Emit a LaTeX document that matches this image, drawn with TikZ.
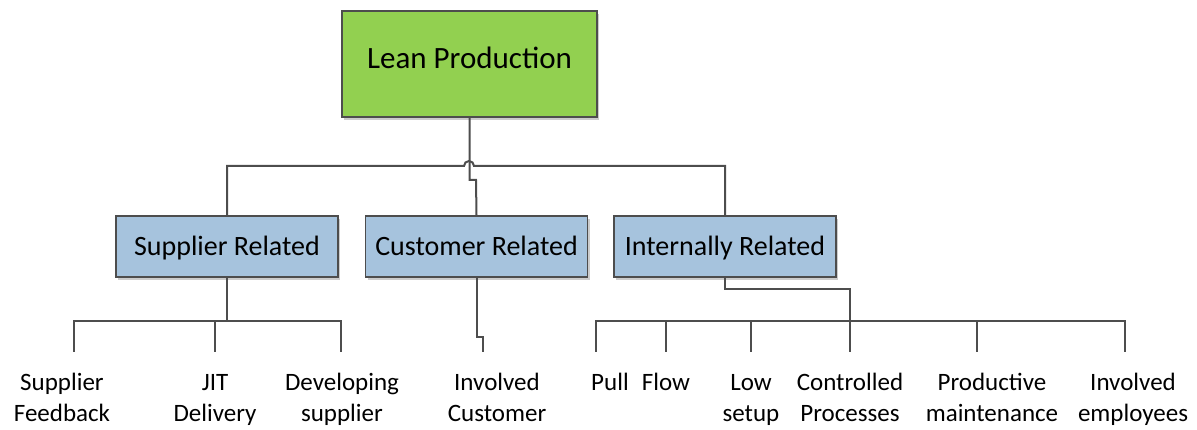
\documentclass[tikz,border=0pt]{standalone}
\usepackage{fontspec}
\setmainfont{Carlito}
\usetikzlibrary{positioning, shadows}
\definecolor{leangreen}{HTML}{92D050}
\definecolor{boxblue}{HTML}{A6C3DD}
\definecolor{linegray}{HTML}{4D4D4D}

\begin{document}
\begin{tikzpicture}[x=1pt, y=-1pt, line width=1.5pt]
    % Stili
    \tikzstyle{rootbox} = [draw=linegray, fill=leangreen, minimum width=255pt, minimum height=106pt, inner sep=0pt, text height=20pt, text depth=11pt, font=\fontsize{31}{37}\selectfont, drop shadow={shadow xshift=2pt, shadow yshift=-3pt, fill=black!20, opacity=1}]
    \tikzstyle{groupbox} = [draw=linegray, fill=boxblue, minimum width=222pt, minimum height=61pt, inner sep=0pt, text height=24pt, text depth=6pt, font=\fontsize{28}{34}\selectfont, drop shadow={shadow xshift=2pt, shadow yshift=-3pt, fill=black!20, opacity=1}]
    \tikzstyle{leaf} = [anchor=base, align=center, inner sep=0pt, font=\fontsize{25}{31}\selectfont]
    \tikzstyle{wire} = [draw=linegray, line width=2pt]

    \useasboundingbox (0,0) rectangle (1197,430);

    % Nodi
    \node [rootbox] (lean) at (469.5,64) {Lean Production};
    \node [groupbox] (supp) at (227,246.5) {Supplier Related};
    \node [groupbox] (cust) at (476.5,246.5) {Customer Related};
    \node [groupbox] (intl) at (725,246.5) {Internally Related};

    % Foglie (base = ultima riga)
    \node [leaf] (sf) at (62,421) {Supplier\\Feedback};
    \node [leaf] (jit) at (215,421) {JIT\\Delivery};
    \node [leaf] (dev) at (342,421) {Developing\\supplier};
    \node [leaf] (invc) at (497,421) {Involved\\Customer};
    \node [leaf] (pull) at (610,390) {Pull};
    \node [leaf] (flow) at (666,390) {Flow};
    \node [leaf] (low) at (751,421) {Low\\setup};
    \node [leaf] (ctrl) at (850,421) {Controlled\\Processes};
    \node [leaf] (prod) at (992,421) {Productive\\maintenance};
    \node [leaf] (invemp) at (1133,421) {Involved\\employees};

    % Punti di giunzione
    \coordinate (hopL) at (464,166);
    \coordinate (hopR) at (474,166);
    \coordinate (ljog) at (476,180);
    \coordinate (sbus) at (227,321);
    \coordinate (cjog) at (483,337);
    \coordinate (ijog) at (850,289);
    \coordinate (sfT) at (74,352);
    \coordinate (jitT) at (215,352);
    \coordinate (devT) at (341,352);
    \coordinate (invcT) at (483,352);
    \coordinate (pullT) at (596,352);
    \coordinate (flowT) at (666,352);
    \coordinate (lowT) at (751,352);
    \coordinate (ctrlT) at (850,352);
    \coordinate (prodT) at (977,352);
    \coordinate (invempT) at (1125,352);

    % Collegamenti
    \draw [wire] (lean.south) |- (ljog) -- (cust.north);
    \draw [wire] (supp.north) |- (hopL) arc [start angle=180, end angle=0, radius=5pt] -- (hopR) -| (intl.north);

    \draw [wire] (supp.south) -- (sbus);
    \draw [wire] (sfT) -- (sfT |- sbus) -| (devT);
    \draw [wire] (jitT |- sbus) -- (jitT);

    \draw [wire] (cust.south) |- (cjog) -- (invcT);

    \draw [wire] (intl.south) |- (ijog) -- (ctrlT);
    \draw [wire] (pullT) -- (pullT |- sbus) -| (invempT);
    \draw [wire] (flowT |- sbus) -- (flowT);
    \draw [wire] (lowT |- sbus) -- (lowT);
    \draw [wire] (prodT |- sbus) -- (prodT);

\end{tikzpicture}
\end{document}
